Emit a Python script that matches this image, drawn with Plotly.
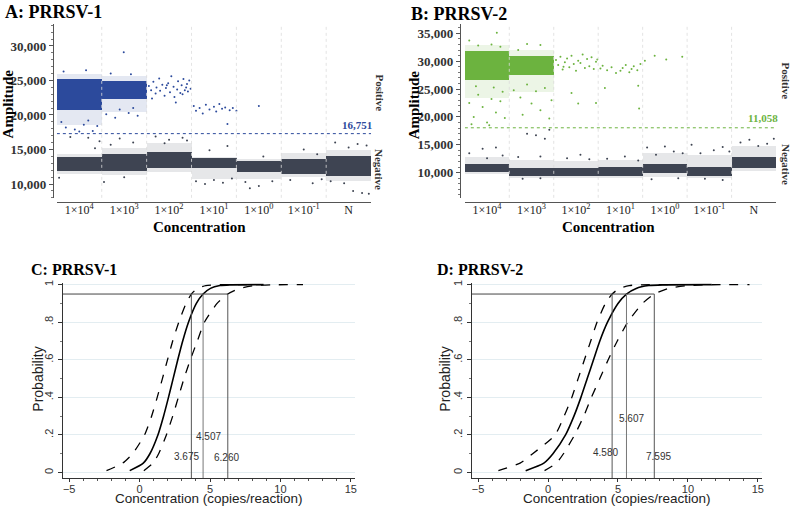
import plotly.graph_objects as go

W, H = 796, 507
SERIF = "Liberation Serif"
SANS = "Liberation Sans"

# ---------------- Panel A / B data (droplet amplitude bands per well) ----------------
wells = ["1×10<sup>4</sup>", "1×10<sup>3</sup>", "1×10<sup>2</sup>", "1×10<sup>1</sup>",
         "1×10<sup>0</sup>", "1×10<sup>-1</sup>", "N"]

# PRRSV-1 (A)
a_pos_core_lo = [20700, 22300]
a_pos_core_hi = [25200, 25000]
a_pos_fr_lo = [18500, 20500]
a_pos_fr_hi = [26000, 25700]
a_neg_core_lo = [11950, 11950, 12300, 12300, 11750, 11450, 11150]
a_neg_core_hi = [13900, 14400, 14700, 13800, 13400, 13600, 14050]
a_neg_fr_lo = [11400, 11300, 11700, 10800, 10800, 11000, 10500]
a_neg_fr_hi = [14300, 15300, 15900, 13900, 13700, 14500, 15000]
a_threshold = 17300
a_threshold_label = "16,751"
a_pos_dots_x = [1.55, 1.6, 1.65, 1.7, 1.72, 1.78, 1.8, 1.85, 1.9, 1.93, 1.98, 2.02, 2.05, 2.1, 2.12,
                2.18, 2.2, 2.25, 2.28, 2.32, 2.35, 2.38, 2.42, 2.45, 2.48, 1.62, 2.15, 1.95, 2.4, 2.3,
                2.55, 2.6, 2.68, 2.75, 2.82, 2.9, 3.0, 3.05, 3.12, 3.18, 3.25, 3.3, 3.35, 3.42, 3.5,
                4.0, 0.99,
                -0.3, -0.1, 0.1, 0.3, 0.2, -0.4, 0.4, 0.0, 0.6, 0.8, 1.1, 1.3, 0.9, 1.2,
                -0.35, 0.15, 0.7, 1.15]
a_pos_dots_y = [24200, 23600, 24800, 23100, 24000, 25300, 23500, 24400, 22800, 23900, 24600, 23300, 25600, 24100, 22600,
                23700, 24900, 23200, 24300, 25200, 23600, 24000, 23400, 25000, 23800, 22400, 21800, 24300, 24500, 23000,
                21300, 20600, 21000, 20200, 21500, 20800, 21200, 20500, 21600, 20900, 21100, 18700, 20700, 21000, 20600,
                21300, 29100,
                18200, 17900, 18600, 17700, 19200, 19000, 18400, 17600, 20100, 19600, 20300, 19900, 20800, 21000,
                26300, 26500, 26000, 25900]
a_neg_dots_x = [-0.2, 0.2, 0.35, 0.45, 0.9, 1.2, 0.7, 1.7, 2.0, 2.3, 2.4, 1.9, 2.9, 3.3, 4.1, 5.0, 5.3,
                5.7, 6.2, 6.4, 6.0, 2.6, 2.8, 3.0, 3.2, 3.4, 3.7, 4.0, 4.3, 3.8, 4.7, 5.2, 5.4,
                5.6, 6.1, 6.3, 6.45, 5.9, -0.45, 0.55, 1.0]
a_neg_dots_y = [16800, 16700, 15200, 16200, 16600, 16000, 15700, 16900, 16400, 16700, 16300, 15900, 14900, 15500,
                14000, 15000, 14300, 16000, 15800, 15600, 15300, 10400, 10000, 10600, 10200, 10800, 10300, 9700,
                10400, 9400, 10600, 10100, 10700, 10400, 9000, 8700, 8600, 10100, 10900, 10300, 11000]

# PRRSV-2 (B)
b_pos_core_lo = [26700, 27600]
b_pos_core_hi = [31800, 31000]
b_pos_fr_lo = [23500, 24500]
b_pos_fr_hi = [33000, 32000]
b_neg_core_lo = [10200, 9400, 9500, 9400, 9900, 9500, 10800]
b_neg_core_hi = [11600, 10800, 10900, 11000, 11600, 11100, 12800]
b_neg_fr_lo = [9800, 9000, 9100, 9000, 9300, 9000, 10400]
b_neg_fr_hi = [12800, 12300, 12200, 12300, 13500, 13200, 14800]
b_threshold = 18050
b_threshold_label = "11,058"
b_pos_dots_x = [0.22, -0.4, -0.3, -0.2, -0.1, 0.0, 0.1, 0.2, 0.3, 0.4, -0.35, 0.15, -0.25, 0.35, 0.05,
                -0.4, 0.1, 0.3, -0.2,
                0.6, 0.75, 0.9, 1.0, 1.1, 1.2, 1.3, 1.4, 0.8, 1.45, 0.9, 1.2, 0.7,
                1.55, 1.6, 1.65, 1.7, 1.75, 1.8, 1.85, 1.9, 1.95, 2.0, 2.05, 2.1, 2.15, 2.2, 2.25, 2.3,
                2.35, 2.4, 2.45, 2.48, 2.05, 2.45, 1.9, 1.72,
                2.55, 2.6, 2.7, 2.8, 2.9, 3.0, 3.05, 3.12, 3.2, 3.25, 3.3, 3.38, 3.45, 3.4, 3.42, 2.65,
                3.55, 3.77, 4.03, 4.39]
b_pos_dots_y = [35100, 22500, 20000, 24000, 21800, 19000, 23200, 20800, 22800, 19800, 18700, 25300, 25500, 24500, 18500,
                33700, 33000, 32600, 32800,
                24800, 23500, 25800, 22400, 24600, 21200, 25200, 19700, 20400, 23000, 33100, 32900, 32000,
                30200, 29300, 30800, 28500, 29800, 30500, 28900, 31000, 29500, 28300, 30100, 29700, 31200, 28800, 30400, 29100,
                30700, 28600, 29900, 30300, 22400, 22500, 24300, 29000,
                28700, 29200, 28400, 28900, 27900, 28300, 28800, 29300, 28000, 28600, 29100, 28400, 29500, 25600, 21500, 25200,
                30100, 31000, 30300, 30800]
b_neg_dots_x = [-0.4, -0.1, 0.2, 0.35, 0.0, 0.7, 0.9, 1.1, 1.4, 1.3, 1.2, 1.8, 2.1, 2.3, 2.7, 3.1, 3.4,
                3.6, 3.8, 4.0, 4.2, 4.4, 4.6, 4.8, 5.1, 5.3, 5.45, 5.7, 5.9, 6.1, 6.3, 6.45,
                0.8, 1.2, 3.7, 4.3, 4.9, 5.3]
b_neg_dots_y = [13500, 14300, 14500, 13100, 12600, 12800, 17000, 16700, 17700, 16100, 12900, 12600, 13200, 12400,
                12500, 12900, 12200, 14500, 13200, 14700, 13800, 13500, 15000, 13500, 14000, 14600, 13800,
                15400, 15900, 14800, 15200, 16100, 8900, 9000, 8800, 9000, 8900, 8700]

# ---------------- Panel C / D data (probit curves) ----------------
prob = [0.01, 0.05, 0.1, 0.2, 0.3, 0.4, 0.5, 0.6, 0.7, 0.8, 0.9, 0.95, 0.98, 0.995, 0.999, 1.0]
c_fit = [-0.7, 0.26, 0.73, 1.3, 1.7, 2.05, 2.38, 2.71, 3.06, 3.47, 4.03, 4.507, 5.03, 5.7, 6.4, 8.8]
c_lo = [-2.35, -1.2, -0.5, 0.35, 0.85, 1.25, 1.62, 1.98, 2.35, 2.78, 3.3, 3.675, 4.1, 4.7, 5.5, 8.7]
c_hi = [0.3, 0.95, 1.35, 1.9, 2.35, 2.75, 3.15, 3.6, 4.1, 4.6, 5.5, 6.26, 7.1, 8.2, 9.3, 11.6]
c_lod = [3.675, 4.507, 6.260]
c_lod_text = ["3.675", "4.507", "6.260"]
c_lod_text_x = [3.3, 4.9, 6.15]
c_lod_text_y = [0.088, 0.194, 0.08]

d_fit = [-1.6, -0.3, 0.35, 1.25, 1.85, 2.35, 2.8, 3.25, 3.7, 4.25, 5.0, 5.607, 6.3, 7.2, 8.2, 11.7]
d_lo = [-3.55, -2.0, -1.1, 0.5, 1.15, 1.7, 2.15, 2.6, 3.05, 3.5, 4.1, 4.58, 5.1, 5.8, 6.6, 9.3]
d_hi = [-0.25, 0.6, 1.1, 1.9, 2.55, 3.1, 3.7, 4.3, 4.95, 5.7, 6.75, 7.595, 8.6, 10.0, 11.3, 14.4]
d_lod = [4.580, 5.607, 7.595]
d_lod_text = ["4.580", "5.607", "7.595"]
d_lod_text_x = [4.12, 5.97, 7.87]
d_lod_text_y = [0.106, 0.29, 0.083]

prob_cut = 0.95
x_range_cd = [-5.45, 15.3]
y_range_cd = [-0.03, 1.007]

POS1 = "#2c4a9c"
POS2 = "#6cb33f"
NEG = "#3e4452"


def px(x):
    return x / W


def py(y):
    return 1 - y / H


fig = go.Figure()


def droplet_panel(xa, ya, pos_color, pcl, pch, pfl, pfh, ncl, nch, nfl, nfh,
                  pdx, pdy, ndx, ndy, thr):
    idx = list(range(len(wells)))
    pi = idx[:len(pcl)]
    common = dict(xaxis=xa, yaxis=ya, width=1.0, showlegend=False, hoverinfo="skip")
    # fringes (scattered droplets around each cluster)
    fig.add_trace(go.Bar(x=idx, base=nfl, y=[h - l for h, l in zip(nfh, nfl)],
                         marker=dict(color=NEG, opacity=0.13, line=dict(width=0)), **common))
    fig.add_trace(go.Bar(x=pi, base=pfl, y=[h - l for h, l in zip(pfh, pfl)],
                         marker=dict(color=pos_color, opacity=0.13, line=dict(width=0)), **common))
    # cores
    fig.add_trace(go.Bar(x=idx, base=ncl, y=[h - l for h, l in zip(nch, ncl)],
                         marker=dict(color=NEG, line=dict(width=0)), **common))
    fig.add_trace(go.Bar(x=pi, base=pcl, y=[h - l for h, l in zip(pch, pcl)],
                         marker=dict(color=pos_color, line=dict(width=0)), **common))
    # sparse droplets
    fig.add_trace(go.Scatter(x=ndx, y=ndy, mode="markers", xaxis=xa, yaxis=ya,
                             marker=dict(color=NEG, size=2), showlegend=False, hoverinfo="skip"))
    fig.add_trace(go.Scatter(x=pdx, y=pdy, mode="markers", xaxis=xa, yaxis=ya,
                             marker=dict(color=pos_color, size=2), showlegend=False, hoverinfo="skip"))
    # threshold
    fig.add_trace(go.Scatter(x=[-0.5, len(wells) - 0.5], y=[thr, thr], mode="lines",
                             xaxis=xa, yaxis=ya, line=dict(color=pos_color, width=1, dash="dot"),
                             showlegend=False, hoverinfo="skip"))
    # well dividers
    for i in idx[:-1]:
        fig.add_shape(type="line", xref=xa, yref=ya + " domain",
                      x0=i + 0.5, x1=i + 0.5, y0=0, y1=1, layer="above",
                      line=dict(color="#dcdcdc", width=0.8, dash="dot"))


droplet_panel("x", "y", POS1, a_pos_core_lo, a_pos_core_hi, a_pos_fr_lo, a_pos_fr_hi,
              a_neg_core_lo, a_neg_core_hi, a_neg_fr_lo, a_neg_fr_hi,
              a_pos_dots_x, a_pos_dots_y, a_neg_dots_x, a_neg_dots_y, a_threshold)
droplet_panel("x2", "y2", POS2, b_pos_core_lo, b_pos_core_hi, b_pos_fr_lo, b_pos_fr_hi,
              b_neg_core_lo, b_neg_core_hi, b_neg_fr_lo, b_neg_fr_hi,
              b_pos_dots_x, b_pos_dots_y, b_neg_dots_x, b_neg_dots_y, b_threshold)


def probit_panel(xa, ya, fit, lo, hi, lod, lod_text, tx, ty):
    common = dict(xaxis=xa, yaxis=ya, mode="lines", showlegend=False, hoverinfo="skip")
    fig.add_trace(go.Scatter(x=lo, y=prob, line=dict(color="black", width=1.3, dash="dash",
                                                     shape="spline", smoothing=0.6), **common))
    fig.add_trace(go.Scatter(x=hi, y=prob, line=dict(color="black", width=1.3, dash="dash",
                                                     shape="spline", smoothing=0.6), **common))
    fig.add_trace(go.Scatter(x=fit, y=prob, line=dict(color="black", width=1.6,
                                                      shape="spline", smoothing=0.6), **common))
    # cut-off line and LOD verticals
    fig.add_trace(go.Scatter(x=[x_range_cd[0], max(lod)], y=[prob_cut, prob_cut],
                             line=dict(color="#444444", width=1), **common))
    for k, v in enumerate(lod):
        fig.add_trace(go.Scatter(x=[v, v], y=[y_range_cd[0], prob_cut],
                                 line=dict(color="#555555" if k != 1 else "#777777", width=1), **common))
    for t, x, y in zip(lod_text, tx, ty):
        fig.add_annotation(x=x, y=y, xref=xa, yref=ya, text=t, showarrow=False,
                           font=dict(family=SANS, size=10, color="#333333"))


probit_panel("x3", "y3", c_fit, c_lo, c_hi, c_lod, c_lod_text, c_lod_text_x, c_lod_text_y)
probit_panel("x4", "y4", d_fit, d_lo, d_hi, d_lod, d_lod_text, d_lod_text_x, d_lod_text_y)

# ---------------- axes ----------------
cat_font = dict(family=SERIF, size=12, color="#222222")
ytick_font = dict(family=SERIF, size=13, color="#333333", weight="bold")


def droplet_axes(n, xdom, ypos_px, ydom, yrange, ydtick, yaxis_pos_px):
    xs = "" if n == 1 else str(n)
    fig.update_layout(**{
        "xaxis" + xs: dict(domain=xdom, range=[-0.5, len(wells) - 0.5], anchor="free",
                          position=ypos_px, tickvals=list(range(len(wells))), ticktext=wells,
                          showgrid=False, zeroline=False, showline=True, linecolor="#555555",
                          linewidth=1, ticks="", tickfont=cat_font, ticklabelstandoff=-3,
                          fixedrange=True),
        "yaxis" + xs: dict(domain=ydom, range=yrange, anchor="free", position=yaxis_pos_px,
                          tickvals=ydtick, tickformat=",", showgrid=False, zeroline=False,
                          showline=True, linecolor="#555555", linewidth=1, ticks="outside",
                          ticklen=4, tickcolor="#555555", tickfont=ytick_font,
                          minor=dict(dtick=1000, ticks="outside", ticklen=2, tickcolor="#777777"),
                          fixedrange=True),
    })


droplet_axes(1, [px(57), px(372)], py(200), [py(196), py(21)], [8000, 33200],
             [10000, 15000, 20000, 25000, 30000], px(53))
droplet_axes(2, [px(466), px(778)], py(200), [py(196), py(21)], [5480, 36700],
             [10000, 15000, 20000, 25000, 30000, 35000], px(461))

sans_tick = dict(family=SANS, size=11, color="#333333")


def probit_axes(n, xdom):
    xs = str(n)
    fig.update_layout(**{
        "xaxis" + xs: dict(domain=xdom, range=x_range_cd, anchor="y" + xs,
                          tickvals=[-5, 0, 5, 10, 15], showgrid=False, zeroline=False,
                          showline=True, linecolor="#333333", linewidth=1, ticks="outside",
                          ticklen=3, tickcolor="#333333", tickfont=sans_tick,
                          ticklabelstandoff=-2,
                          minor=dict(dtick=1, ticks="outside", ticklen=2, tickcolor="#555555"),
                          fixedrange=True),
        "yaxis" + xs: dict(domain=[py(478), py(282)], range=y_range_cd, anchor="x" + xs,
                          tickvals=[0, 0.2, 0.4, 0.6, 0.8, 1.0],
                          ticktext=["0", ".2", ".4", ".6", ".8", "1"], tickangle=-90,
                          showgrid=True, gridcolor="#e3edf1", gridwidth=1, zeroline=False,
                          showline=True, linecolor="#333333", linewidth=1, ticks="outside",
                          ticklen=4, tickcolor="#333333", tickfont=sans_tick,
                          minor=dict(dtick=0.1, ticks="outside", ticklen=2, tickcolor="#777777"),
                          fixedrange=True),
    })


probit_axes(3, [px(63), px(356)])
probit_axes(4, [px(473), px(764)])


# ---------------- text ----------------
def ann(x, y, text, font, angle=0, xanchor="center"):
    fig.add_annotation(x=px(x), y=py(y), xref="paper", yref="paper", text=text, showarrow=False,
                       textangle=angle, xanchor=xanchor, yanchor="middle", font=font)


title_font = dict(family=SERIF, size=18, color="black", weight="bold")
title_font2 = dict(family=SERIF, size=16, color="black", weight="bold")
axis_font = dict(family=SERIF, size=15, color="black", weight="bold")
side_font = dict(family=SERIF, size=11, color="#333333", weight="bold")
sans_title = dict(family=SANS, size=13.5, color="#222222")

ann(3, 9, "A: PRRSV-1", title_font, xanchor="left")
ann(410, 11, "B: PRRSV-2", title_font, xanchor="left")
ann(29, 268, "C: PRRSV-1", title_font2, xanchor="left")
ann(436, 268, "D: PRRSV-2", title_font2, xanchor="left")

ann(8, 101, "Amplitude", axis_font, angle=-90)
ann(415, 102, "Amplitude", axis_font, angle=-90)
ann(200, 225, "Concentration", axis_font)
ann(610, 225, "Concentration", axis_font)

ann(380, 90, "Positive", side_font, angle=90)
ann(380, 167, "Negative", side_font, angle=90)
ann(788, 78, "Positive", side_font, angle=90)
ann(788, 162, "Negative", side_font, angle=90)

ann(358, 123, a_threshold_label, dict(family=SERIF, size=11, color=POS1, weight="bold"))
ann(765, 116, b_threshold_label, dict(family=SERIF, size=11, color=POS2, weight="bold"))

ann(38, 378, "Probability", dict(family=SANS, size=14, color="#222222"), angle=-90)
ann(446, 378, "Probability", dict(family=SANS, size=14, color="#222222"), angle=-90)
ann(210, 498, "Concentration (copies/reaction)", sans_title)
ann(619, 498, "Concentration (copies/reaction)", sans_title)

fig.update_layout(width=W, height=H, margin=dict(l=0, r=0, t=0, b=0),
                  paper_bgcolor="white", plot_bgcolor="white", barmode="overlay",
                  bargap=0, showlegend=False)

fig.write_html("out.html")
